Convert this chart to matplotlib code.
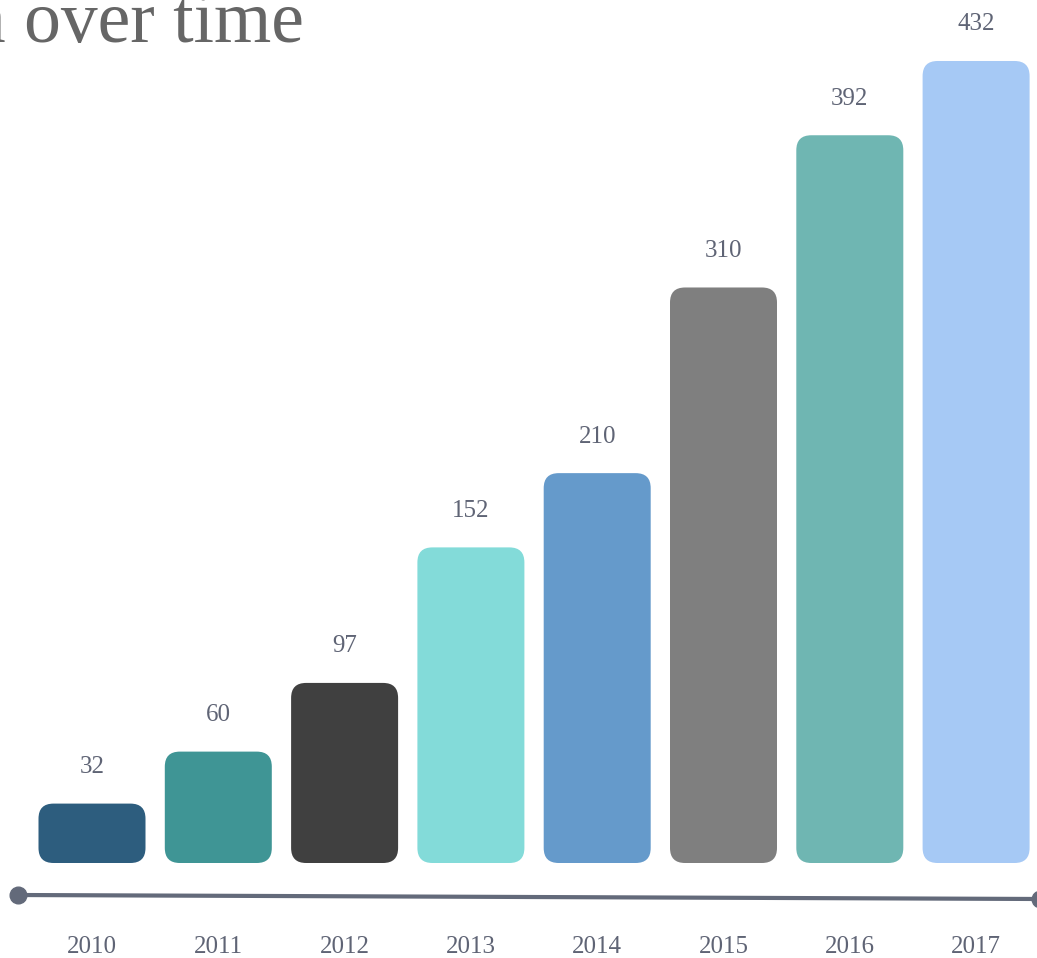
import matplotlib
matplotlib.use("Agg")
import matplotlib.pyplot as plt
from matplotlib.patches import FancyBboxPatch
from matplotlib.lines import Line2D

years = ["2010", "2011", "2012", "2013", "2014", "2015", "2016", "2017"]
labels = ["32", "60", "97", "152", "210", "310", "392", "432"]
# bar heights as drawn (the 2013 bar is drawn taller than its label says)
heights = [32, 60, 97, 170, 210, 310, 392, 432]
colors = ["#2d5d7e", "#3f9595", "#404040", "#83dbd9",
          "#659acb", "#7f7f7f", "#6fb6b2", "#a6c9f5"]
title = "Sales evolution over time"

W, H = 1037, 958
plt.rcParams['font.family'] = ['Liberation Serif', 'DejaVu Serif']

fig = plt.figure(figsize=(W / 100, H / 100), dpi=100)
ax = fig.add_axes([0, 0, 1, 1])
ax.set_axis_off()

# pixel layout: bar centres every 126.3 px starting at 92, baseline at y=863
step = 126.3
px_per_unit = 1.8565
ax.set_xlim(-92 / step, (W - 92) / step)
ax.set_ylim(-(H - 863) / px_per_unit, 863 / px_per_unit)

x = list(range(len(years)))
bars = ax.bar(x, heights, width=107 / step, visible=False)

rad = 15 / step
aspect = (15 / px_per_unit) / rad
for rect, c in zip(bars, colors):
    bx, by = rect.get_x(), rect.get_y()
    bw, bh = rect.get_width(), rect.get_height()
    p = FancyBboxPatch((bx, by), bw, bh,
                       boxstyle="round,pad=0,rounding_size=%f" % rad,
                       mutation_aspect=aspect, facecolor=c, edgecolor="none")
    ax.add_patch(p)

txt_col = "#5f6475"
for xi, v, lab in zip(x, heights, labels):
    ax.annotate(lab, (xi, v), xytext=(0, 22), textcoords="offset points",
                ha="center", va="baseline", fontsize=18, color=txt_col)

for xi, y in zip(x, years):
    ax.text(xi, -(953 - 863) / px_per_unit, y, ha="center", va="baseline",
            fontsize=18, color=txt_col)

# slanted timeline with dots at the ends
line_col = "#636a7a"
fig.add_artist(Line2D([18 / W, 1040 / W], [1 - 895 / H, 1 - 899 / H],
                      transform=fig.transFigure, color=line_col, lw=3,
                      marker="o", markersize=12, solid_capstyle="butt"))

fig.text(304 / W, 1 - 42 / H, title, ha="right", va="baseline",
         fontsize=53, color="#666666")

fig.savefig("out.png", dpi=100)
